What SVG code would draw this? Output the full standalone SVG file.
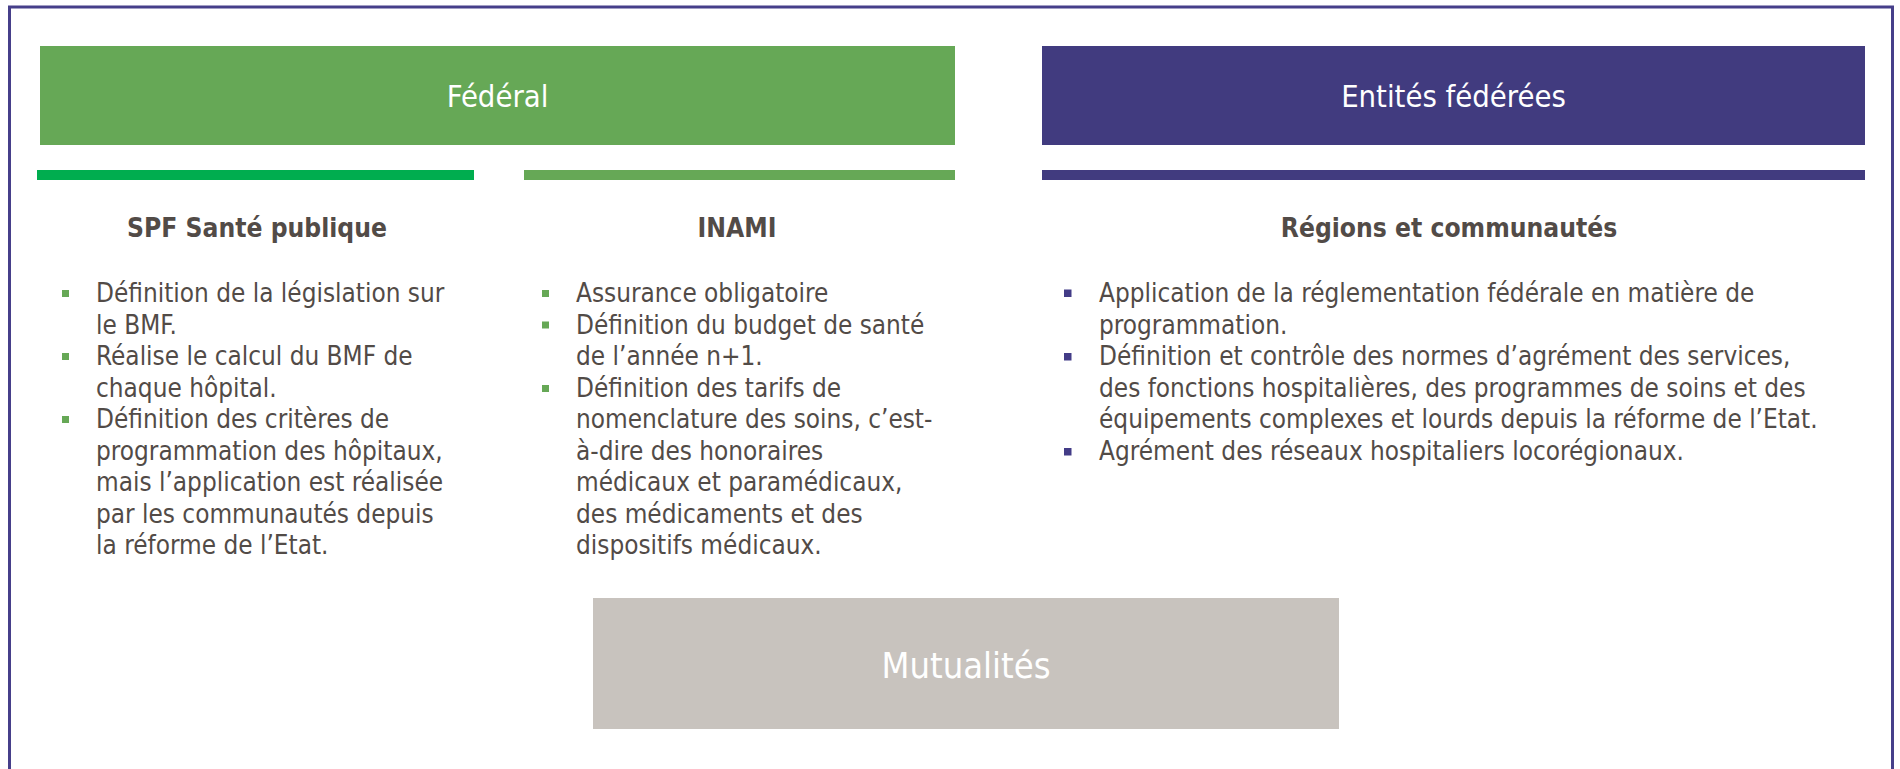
<svg xmlns="http://www.w3.org/2000/svg" width="1900" height="769" viewBox="0 0 1900 769">
<style>
.hdr{font-family:"DejaVu Sans Condensed","DejaVu Sans",sans-serif;font-size:30.7px;fill:#ffffff;text-anchor:middle}
.ttl{font-family:"DejaVu Sans Condensed","DejaVu Sans",sans-serif;font-size:26.2px;font-weight:bold;fill:#524b47;text-anchor:middle}
.txt{font-family:"DejaVu Sans Condensed","DejaVu Sans",sans-serif;font-size:25.9px;fill:#524b47}
.bg{fill:#66a856}
.bp{fill:#433c87}
</style>
<rect x="9.5" y="7" width="1883" height="780" fill="#ffffff" stroke="#463f8a" stroke-width="3"/>
<g id="federal">
<rect x="40" y="46" width="915" height="99" fill="#66a856"/>
<text class="hdr" x="497.5" y="107">Fédéral</text>
</g>
<g id="entites">
<rect x="1042" y="46" width="823" height="99" fill="#413b7f"/>
<text class="hdr" x="1453.5" y="107">Entités fédérées</text>
</g>
<g id="spf">
<rect x="37" y="170" width="437" height="10" fill="#00ad4f"/>
<text class="ttl" x="257" y="237">SPF Santé publique</text>
<rect class="bg" x="62" y="290" width="7" height="7"/>
<rect class="bg" x="62" y="353" width="7" height="7"/>
<rect class="bg" x="62" y="416" width="7" height="7"/>
<text class="txt" x="96" y="302">Définition de la législation sur</text>
<text class="txt" x="96" y="333.5">le BMF.</text>
<text class="txt" x="96" y="365">Réalise le calcul du BMF de</text>
<text class="txt" x="96" y="396.5">chaque hôpital.</text>
<text class="txt" x="96" y="428">Définition des critères de</text>
<text class="txt" x="96" y="459.5">programmation des hôpitaux,</text>
<text class="txt" x="96" y="491">mais l’application est réalisée</text>
<text class="txt" x="96" y="522.5">par les communautés depuis</text>
<text class="txt" x="96" y="554">la réforme de l’Etat.</text>
</g>
<g id="inami">
<rect x="524" y="170" width="431" height="10" fill="#66a856"/>
<text class="ttl" x="737" y="237">INAMI</text>
<rect class="bg" x="542" y="290" width="7" height="7"/>
<rect class="bg" x="542" y="321.5" width="7" height="7"/>
<rect class="bg" x="542" y="385" width="7" height="7"/>
<text class="txt" x="576" y="302">Assurance obligatoire</text>
<text class="txt" x="576" y="333.5">Définition du budget de santé</text>
<text class="txt" x="576" y="365">de l’année n+1.</text>
<text class="txt" x="576" y="396.5">Définition des tarifs de</text>
<text class="txt" x="576" y="428">nomenclature des soins, c’est-</text>
<text class="txt" x="576" y="459.5">à-dire des honoraires</text>
<text class="txt" x="576" y="491">médicaux et paramédicaux,</text>
<text class="txt" x="576" y="522.5">des médicaments et des</text>
<text class="txt" x="576" y="554">dispositifs médicaux.</text>
</g>
<g id="regions">
<rect x="1042" y="170" width="823" height="10" fill="#413b7f"/>
<text class="ttl" x="1449" y="237">Régions et communautés</text>
<rect class="bp" x="1064" y="289.5" width="7.5" height="7.5"/>
<rect class="bp" x="1064" y="353" width="7.5" height="7.5"/>
<rect class="bp" x="1064" y="448" width="7.5" height="7.5"/>
<text class="txt" x="1099" y="302">Application de la réglementation fédérale en matière de</text>
<text class="txt" x="1099" y="333.5">programmation.</text>
<text class="txt" x="1099" y="365">Définition et contrôle des normes d’agrément des services,</text>
<text class="txt" x="1099" y="396.5">des fonctions hospitalières, des programmes de soins et des</text>
<text class="txt" x="1099" y="428">équipements complexes et lourds depuis la réforme de l’Etat.</text>
<text class="txt" x="1099" y="459.5">Agrément des réseaux hospitaliers locorégionaux.</text>
</g>
<g id="mutualites">
<rect x="593" y="598" width="746" height="131" fill="#c8c3be"/>
<text class="hdr" x="966" y="678" style="font-size:36px">Mutualités</text>
</g>
<g id="connectors"/>
</svg>
